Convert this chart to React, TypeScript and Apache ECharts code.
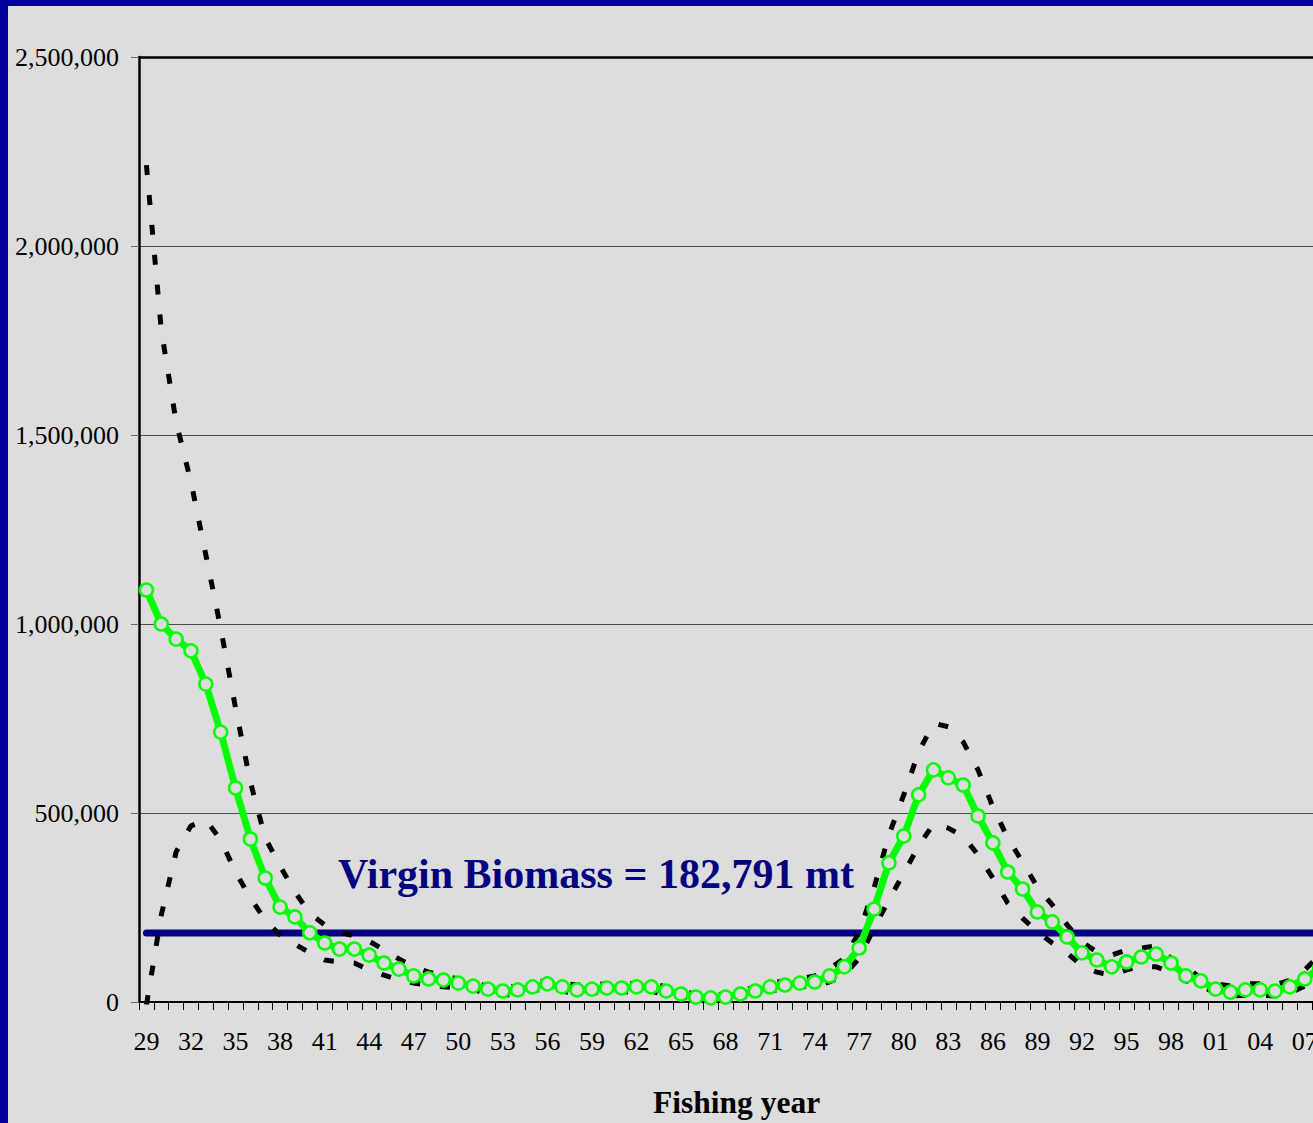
import React, { useEffect, useRef } from "react";
import * as echarts from "echarts";

const years: string[] = [
  "29","30","31","32","33","34","35","36","37","38","39",
  "40","41","42","43","44","45","46","47","48","49",
  "50","51","52","53","54","55","56","57","58","59",
  "60","61","62","63","64","65","66","67","68","69",
  "70","71","72","73","74","75","76","77","78","79",
  "80","81","82","83","84","85","86","87","88","89",
  "90","91","92","93","94","95","96","97","98","99",
  "00","01","02","03","04","05","06","07","08",
];

const biomass: number[] = [
  1090000, 1000000, 960000, 929000, 841000, 714000, 566000, 431000, 328000, 251000, 225000,
  183000, 156000, 140000, 140000, 124000, 103000, 87000, 69000, 61000, 58000,
  50000, 42000, 34000, 29000, 32000, 40000, 48000, 40000, 32000, 34000,
  37000, 37000, 40000, 40000, 29000, 21000, 13000, 11000, 13000, 21000,
  29000, 40000, 45000, 50000, 53000, 69000, 93000, 143000, 246000, 368000,
  439000, 548000, 614000, 593000, 574000, 492000, 421000, 344000, 299000, 238000,
  212000, 172000, 130000, 111000, 93000, 106000, 119000, 127000, 103000, 69000,
  56000, 34000, 26000, 32000, 32000, 29000, 40000, 61000, 90000,
];

const upperBound: number[] = [
  2214000, 1778000, 1534000, 1376000, 1183000, 989000, 778000, 582000, 434000, 360000, 291000,
  235000, 204000, 185000, 175000, 161000, 138000, 114000, 93000, 79000, 69000,
  61000, 50000, 42000, 40000, 42000, 50000, 58000, 50000, 45000, 45000,
  48000, 48000, 50000, 50000, 40000, 29000, 21000, 18000, 21000, 29000,
  40000, 50000, 56000, 61000, 69000, 87000, 116000, 185000, 302000, 442000,
  548000, 661000, 738000, 728000, 688000, 614000, 516000, 434000, 370000, 304000,
  257000, 204000, 159000, 132000, 124000, 138000, 143000, 148000, 116000, 93000,
  63000, 48000, 42000, 48000, 48000, 45000, 58000, 85000, 124000,
];

const lowerBound: number[] = [
  -8000, 230000, 397000, 466000, 481000, 429000, 344000, 275000, 217000, 177000, 153000,
  130000, 111000, 106000, 103000, 85000, 71000, 58000, 50000, 45000, 40000,
  37000, 32000, 24000, 18000, 21000, 29000, 37000, 29000, 21000, 24000,
  26000, 26000, 29000, 29000, 18000, 13000, 8000, 5000, 8000, 13000,
  21000, 29000, 34000, 40000, 42000, 53000, 71000, 116000, 196000, 270000,
  341000, 413000, 471000, 460000, 439000, 389000, 328000, 262000, 222000, 185000,
  156000, 130000, 95000, 79000, 71000, 85000, 95000, 93000, 79000, 56000,
  42000, 24000, 16000, 18000, 18000, 16000, 24000, 42000, 71000,
];

const virginBiomass = 182791;
const virginValues: number[] = years.map(() => virginBiomass);

const yMin = 0;
const yMax = 2500000;
const yStep = 500000;

const SERIF = "'Liberation Serif', 'DejaVu Serif', serif";

export default function App() {
  const ref = useRef<HTMLDivElement>(null);

  useEffect(() => {
    if (!ref.current) return;
    const chart = echarts.init(ref.current, undefined, { renderer: "svg" });
    const dash = [10, 20];
    chart.setOption({
      animation: false,
      backgroundColor: "#DDDDDD",
      grid: { left: 131, top: 51, right: 81, bottom: 121, containLabel: false },
      xAxis: [
        {
          type: "category",
          data: years,
          boundaryGap: true,
          axisLine: { show: true, onZero: false, lineStyle: { color: "#000000", width: 2 } },
          axisTick: {
            show: true,
            interval: 0,
            inside: false,
            length: 8,
            lineStyle: { color: "#000000", width: 1 },
          },
          axisLabel: {
            interval: 2,
            margin: 26,
            color: "#000000",
            fontFamily: SERIF,
            fontSize: 26,
          },
          splitLine: { show: false },
        },
        {
          type: "category",
          data: years,
          position: "top",
          boundaryGap: true,
          axisLine: { show: true, onZero: false, lineStyle: { color: "#000000", width: 2.5 } },
          axisTick: { show: false },
          axisLabel: { show: false },
          splitLine: { show: false },
        },
      ],
      yAxis: {
        type: "value",
        min: yMin,
        max: yMax,
        interval: yStep,
        axisLine: { show: true, onZero: false, lineStyle: { color: "#000000", width: 2.5 } },
        axisTick: { show: true, length: 8, lineStyle: { color: "#666666", width: 1 } },
        axisLabel: {
          margin: 20,
          color: "#000000",
          fontFamily: SERIF,
          fontSize: 26,
          formatter: (v: number) => v.toLocaleString("en-US"),
        },
        splitLine: { show: true, lineStyle: { color: "#4d4d4d", width: 1 } },
      },
      series: [
        {
          name: "Virgin Biomass",
          type: "line",
          data: virginValues,
          symbol: "none",
          lineStyle: { color: "#000080", width: 7, cap: "round" },
          z: 2,
        },
        {
          name: "Lower",
          type: "line",
          data: lowerBound,
          symbol: "none",
          lineStyle: { color: "#000000", width: 5, type: dash },
          z: 3,
        },
        {
          name: "Upper",
          type: "line",
          data: upperBound,
          symbol: "none",
          lineStyle: { color: "#000000", width: 5, type: dash },
          z: 3,
        },
        {
          name: "Biomass",
          type: "line",
          data: biomass,
          symbol: "circle",
          symbolSize: 13,
          showAllSymbol: true,
          lineStyle: { color: "#00FF00", width: 7 },
          itemStyle: { color: "#DDDDDD", borderColor: "#00FF00", borderWidth: 2.5 },
          z: 4,
        },
      ],
      graphic: [
        {
          type: "text",
          left: 330,
          top: 847,
          style: {
            text: "Virgin Biomass = 182,791 mt",
            fill: "#000080",
            font: `bold 42px ${SERIF}`,
          },
          z: 10,
        },
        {
          type: "text",
          left: 645,
          top: 1080,
          style: {
            text: "Fishing year",
            fill: "#000000",
            font: `bold 31.5px ${SERIF}`,
          },
          z: 10,
        },
      ],
    });
    return () => chart.dispose();
  }, []);

  return (
    <div
      style={{
        position: "fixed",
        left: 0,
        top: 0,
        width: 1313,
        height: 1123,
        overflow: "hidden",
        background: "#000099",
      }}
    >
      <div
        ref={ref}
        style={{
          position: "absolute",
          left: 8,
          top: 6,
          width: 1400,
          height: 1117,
          background: "#DDDDDD",
        }}
      />
    </div>
  );
}
